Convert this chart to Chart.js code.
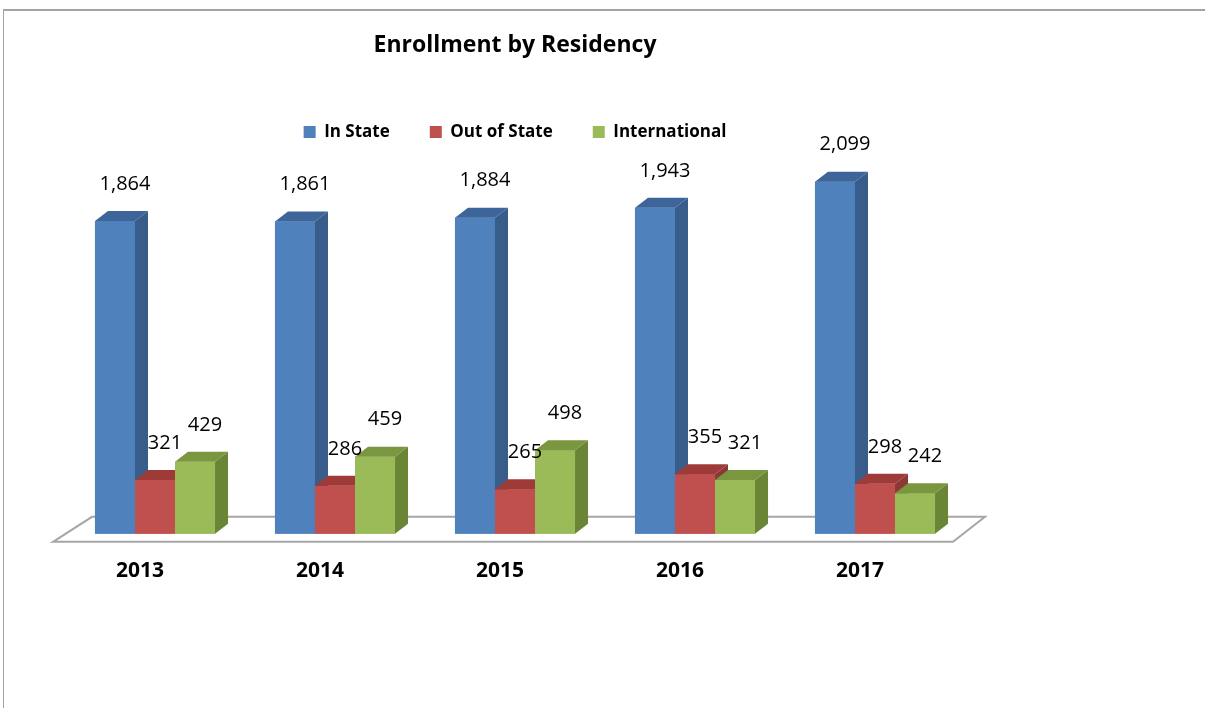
<!DOCTYPE html>
<html>
<head>
<meta charset="utf-8">
<title>Enrollment by Residency</title>
<script src="https://cdn.jsdelivr.net/npm/chart.js@4/dist/chart.umd.min.js"></script>
<style>
  body { margin: 0; background: #fff; }
  #wrap { position: relative; width: 1205px; height: 708px; overflow: hidden; }
  #frame {
    position: absolute; left: 3px; top: 9px; width: 1210px; height: 710px;
    border-top: 2px solid #a3a3a3; border-left: 1px solid #a3a3a3;
  }
  #residencyChart { position: absolute; left: 0; top: 0; }
</style>
</head>
<body>
<div id="wrap">
  <div id="frame"></div>
  <canvas id="residencyChart" width="1024" height="708"></canvas>
</div>
<script>
const years = ['2013', '2014', '2015', '2016', '2017'];
const inState = [1864, 1861, 1884, 1943, 2099];
const outOfState = [321, 286, 265, 355, 298];
const international = [429, 459, 498, 321, 242];

// front, top, side
const shades = [
    ['#4F81BD', '#3D659A', '#385D8A'],
    ['#C0504D', '#9E3B38', '#8C3836'],
    ['#9BBB59', '#7A963F', '#6B8537']
];
const depthX = 13;
const depthY = -10;

// floor under the bars
const floorPlugin = {
    id: 'floor',
    beforeDatasetsDraw(chart) {
        const { ctx, chartArea } = chart;
        const b = chartArea.bottom;
        ctx.save();
        ctx.beginPath();
        ctx.moveTo(chartArea.left - 12, b + 8);
        ctx.lineTo(chartArea.left + 27, b - 17);
        ctx.lineTo(chartArea.right + 20, b - 17);
        ctx.lineTo(chartArea.right - 12, b + 8);
        ctx.closePath();
        ctx.fillStyle = '#ffffff';
        ctx.fill();
        ctx.strokeStyle = '#a6a6a6';
        ctx.lineWidth = 2;
        ctx.stroke();
        ctx.restore();
    }
};

// fake 3d boxes + value labels
const boxPlugin = {
    id: 'boxes',
    afterDatasetsDraw(chart) {
        const ctx = chart.ctx;
        const n = chart.data.labels.length;
        ctx.save();
        for (let i = 0; i < n; i++) {
            chart.data.datasets.forEach((ds, d) => {
                const el = chart.getDatasetMeta(d).data[i];
                const p = el.getProps(['x', 'y', 'base', 'width'], true);
                const l = p.x - p.width / 2;
                const r = p.x + p.width / 2;
                ctx.fillStyle = shades[d][0];
                ctx.fillRect(l, p.y, p.width, p.base - p.y);
                ctx.fillStyle = shades[d][2];
                ctx.beginPath();
                ctx.moveTo(r, p.y);
                ctx.lineTo(r + depthX, p.y + depthY);
                ctx.lineTo(r + depthX, p.base + depthY);
                ctx.lineTo(r, p.base);
                ctx.closePath();
                ctx.fill();
                ctx.fillStyle = shades[d][1];
                ctx.beginPath();
                ctx.moveTo(l, p.y);
                ctx.lineTo(l + depthX, p.y + depthY);
                ctx.lineTo(r + depthX, p.y + depthY);
                ctx.lineTo(r, p.y);
                ctx.closePath();
                ctx.fill();
            });
        }
        ctx.font = '20px "Open Sans"';
        ctx.fillStyle = '#000';
        ctx.textAlign = 'center';
        ctx.textBaseline = 'middle';
        chart.data.datasets.forEach((ds, d) => {
            chart.getDatasetMeta(d).data.forEach((el, i) => {
                const p = el.getProps(['x', 'y'], true);
                ctx.fillText(ds.data[i].toLocaleString('en-US'), p.x + 10, p.y - 37);
            });
        });
        ctx.restore();
    }
};

new Chart(document.getElementById('residencyChart'), {
    type: 'bar',
    data: {
        labels: years,
        datasets: [
            { label: 'In State', data: inState, backgroundColor: shades[0][0] },
            { label: 'Out of State', data: outOfState, backgroundColor: shades[1][0] },
            { label: 'International', data: international, backgroundColor: shades[2][0] }
        ]
    },
    options: {
        responsive: false,
        animation: false,
        events: [],
        datasets: {
            bar: { categoryPercentage: 0.667, barPercentage: 1, borderWidth: 0 }
        },
        layout: { padding: { left: 65, right: 59, top: 0, bottom: 99 } },
        plugins: {
            title: {
                display: true,
                text: 'Enrollment by Residency',
                color: '#000',
                font: { family: 'Open Sans', size: 23, weight: 'bold' },
                padding: { top: 32, bottom: 24 }
            },
            legend: {
                display: true,
                labels: {
                    color: '#000',
                    boxWidth: 12,
                    boxHeight: 12,
                    padding: 40,
                    font: { family: 'Open Sans', size: 17, weight: 'bold' }
                }
            },
            tooltip: { enabled: false }
        },
        scales: {
            x: {
                grid: { display: false, drawTicks: false },
                border: { display: false },
                ticks: {
                    color: '#000',
                    padding: 25,
                    labelOffset: -15,
                    font: { family: 'Open Sans', size: 21, weight: 'bold' }
                }
            },
            y: { display: false, min: 0, max: 2284 }
        }
    },
    plugins: [floorPlugin, boxPlugin]
});
</script>
</body>
</html>
